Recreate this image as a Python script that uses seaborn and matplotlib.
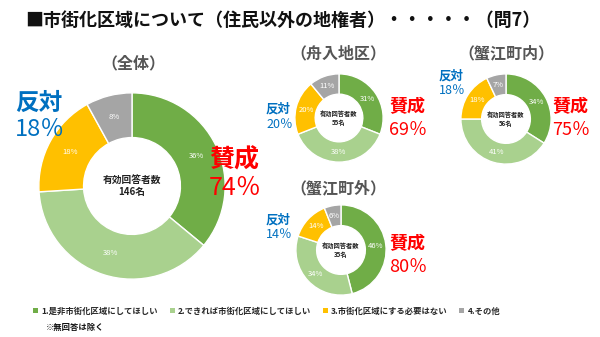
import matplotlib
matplotlib.use("Agg")
import matplotlib.pyplot as plt
import seaborn as sns
from matplotlib.patches import Patch

sns.set_theme(style="white")
plt.rcParams['font.family'] = ['Noto Sans CJK JP', 'DejaVu Sans']

# ---- data ----
categories = ["1.是非市街化区域にしてほしい", "2.できれば市街化区域にしてほしい",
              "3.市街化区域にする必要はない", "4.その他"]
overall = [36, 38, 18, 8]
funairi = [31, 38, 20, 11]
kanie_in = [34, 41, 18, 7]
kanie_out = [46, 34, 14, 6]
respondents = [146, 55, 56, 35]
titles = ["（全体）", "（舟入地区）", "（蟹江町内）", "（蟹江町外）"]
agree = [74, 69, 75, 80]
oppose = [18, 20, 18, 14]

colors = ["#70AD47", "#A9D18E", "#FFC000", "#A5A5A5"]

W, H = 600, 337
fig = plt.figure(figsize=(W / 100, H / 100), dpi=100)
fig.patch.set_facecolor("white")


def fx(x):
    return x / W


def fy(y):
    return 1 - y / H


def donut(cx, cy, r, vals, n, fs_pct, fs_center, inner_frac):
    ax = fig.add_axes([fx(cx - r), fy(cy + r), 2 * r / W, 2 * r / H])
    wedges, texts, autotexts = ax.pie(
        vals, colors=colors, startangle=90, counterclock=False,
        wedgeprops=dict(width=1 - inner_frac, edgecolor="white", linewidth=1),
        autopct=lambda p: f"{p:.0f}%", pctdistance=(1 + inner_frac) / 2,
        radius=1)
    for t in autotexts:
        t.set_color("white")
        t.set_fontsize(fs_pct)
    ax.text(0, 0, f"有効回答者数\n{n}名", ha="center", va="center",
            fontsize=fs_center, fontweight="bold", color="#222222", linespacing=1.2)
    ax.set_xlim(-1.02, 1.02)
    ax.set_ylim(-1.02, 1.02)
    ax.set_aspect("equal")
    ax.axis("off")
    return ax


donut(132, 186, 95, overall, respondents[0], 5.5, 7, 0.52)
donut(339, 118, 45, funairi, respondents[1], 5.5, 4.5, 0.54)
donut(506, 119, 46, kanie_in, respondents[2], 5.5, 4.5, 0.54)
donut(341, 250, 46, kanie_out, respondents[3], 5.5, 4.5, 0.54)

# title
fig.text(fx(25), fy(20), "■市街化区域について（住民以外の地権者）・・・・・（問7）",
         fontsize=13, fontweight="bold", color="#111111", va="center", ha="left")

# sub titles
sub_pos = [(133, 63), (338, 53), (506, 53), (338, 188)]
for t, (x, y) in zip(titles, sub_pos):
    fig.text(fx(x), fy(y), t, fontsize=11.5, fontweight="bold", color="#555555",
             ha="center", va="center")

blue = "#0070C0"
red = "#FF0000"

# overall labels
fig.text(fx(15), fy(103), "反対", fontsize=17, fontweight="bold", color=blue, va="center")
fig.text(fx(15), fy(129), f"{oppose[0]}％", fontsize=17, color=blue, va="center")
fig.text(fx(209), fy(160), "賛成", fontsize=18, fontweight="bold", color=red, va="center")
fig.text(fx(209), fy(188), f"{agree[0]}％", fontsize=18, color=red, va="center")

# small labels
small = [
    ((266, 109), (266, 124), (389, 107), (389, 130), 1),
    ((439, 76), (439, 91), (552, 107), (552, 130), 2),
    ((266, 220), (266, 234), (389, 244), (389, 267), 3),
]
for (o1, o2, a1, a2, i) in small:
    fig.text(fx(o1[0]), fy(o1[1]), "反対", fontsize=9, fontweight="bold", color=blue, va="center")
    fig.text(fx(o2[0]), fy(o2[1]), f"{oppose[i]}％", fontsize=9, color=blue, va="center")
    fig.text(fx(a1[0]), fy(a1[1]), "賛成", fontsize=13, fontweight="bold", color=red, va="center")
    fig.text(fx(a2[0]), fy(a2[1]), f"{agree[i]}％", fontsize=13, color=red, va="center")

# legend
handles = [Patch(facecolor=c, edgecolor="none") for c in colors]
fig.legend(handles, categories, loc="center left", bbox_to_anchor=(fx(33), fy(311)),
           ncol=4, frameon=False, handlelength=0.6, handleheight=0.6,
           handletextpad=0.4, columnspacing=1.4, borderaxespad=0, borderpad=0,
           prop=dict(weight="bold", size=6))
fig.text(fx(46), fy(327), "※無回答は除く", fontsize=6, fontweight="bold", color="#111111",
         va="center")

fig.savefig("out.png", dpi=100, facecolor="white")
